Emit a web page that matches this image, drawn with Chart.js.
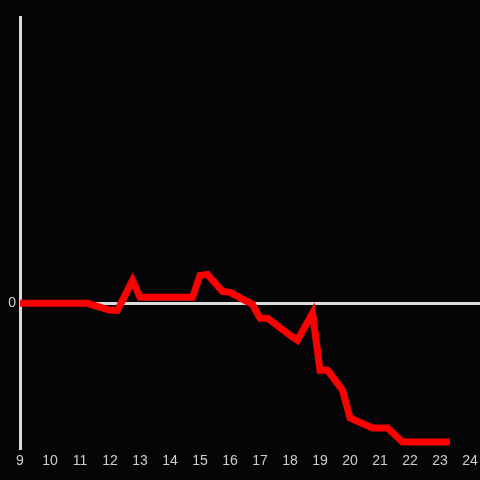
<!DOCTYPE html>
<html>
<head>
<meta charset="utf-8">
<script src="https://cdn.jsdelivr.net/npm/chart.js@4"></script>
<style>
    html, body { margin: 0; padding: 0; background: #050407; }
    #wrap { width: 480px; height: 480px; }
</style>
</head>
<body>
<div id="wrap"><canvas id="line-chart"></canvas></div>
<script>
// Hours of the day and the value at each
const hours = [9, 11.25, 12, 12.25, 12.75, 13, 14.75, 15, 15.25, 15.75, 16, 16.25, 16.75, 17,
    17.25, 18, 18.25, 18.75, 19, 19.25, 19.75, 20, 20.75, 21.25, 21.75, 23.33];
const values = [0, 0, -0.7, -0.7, 2.3, 0.6, 0.6, 2.8, 2.9, 1.2, 1.1, 0.7, -0.1, -1.5,
    -1.5, -3.2, -3.7, -1.0, -6.7, -6.7, -8.7, -11.5, -12.5, -12.5, -13.9, -13.9];
const yTicks = [0];

const axisColor = '#dcdcdc';
const labelColor = '#cfcfcf';

const ctx = document.getElementById('line-chart').getContext('2d');
const lineChart = new Chart(ctx, {
    type: 'line',
    data: {
        datasets: [{
            data: hours.map((h, i) => ({ x: h, y: values[i] })),
            borderColor: '#ff0000',
            borderWidth: 7,
            pointRadius: 0,
            tension: 0,
            fill: false
        }]
    },
    options: {
        responsive: true,
        maintainAspectRatio: false,
        animation: false,
        layout: { padding: { top: 17, right: 0, bottom: 0, left: 0 } },
        plugins: {
            legend: { display: false },
            tooltip: { enabled: false }
        },
        scales: {
            x: {
                type: 'linear',
                min: 9,
                max: 24.333,
                afterBuildTicks: (scale) => {
                    const t = [];
                    for (let h = 9; h <= 24; h++) t.push({ value: h });
                    scale.ticks = t;
                },
                afterFit: (scale) => {
                    scale.height = 32;
                    scale.paddingRight = 0;
                    scale.paddingLeft = 0;
                },
                border: { display: false },
                grid: { display: false, drawTicks: false },
                ticks: {
                    color: labelColor,
                    padding: 5,
                    maxRotation: 0,
                    autoSkip: false,
                    font: { family: 'Liberation Sans', size: 14 }
                }
            },
            y: {
                min: -14.5,
                max: 28.7,
                afterBuildTicks: (scale) => {
                    scale.ticks = yTicks.map(v => ({ value: v }));
                },
                afterFit: (scale) => {
                    scale.width = 20;
                    scale.paddingTop = 0;
                    scale.paddingBottom = 0;
                },
                border: { display: true, color: axisColor, width: 3 },
                grid: { color: axisColor, lineWidth: 3, drawTicks: false },
                ticks: {
                    color: labelColor,
                    padding: 4,
                    font: { family: 'Liberation Sans', size: 14 }
                }
            }
        }
    }
});
</script>
</body>
</html>
